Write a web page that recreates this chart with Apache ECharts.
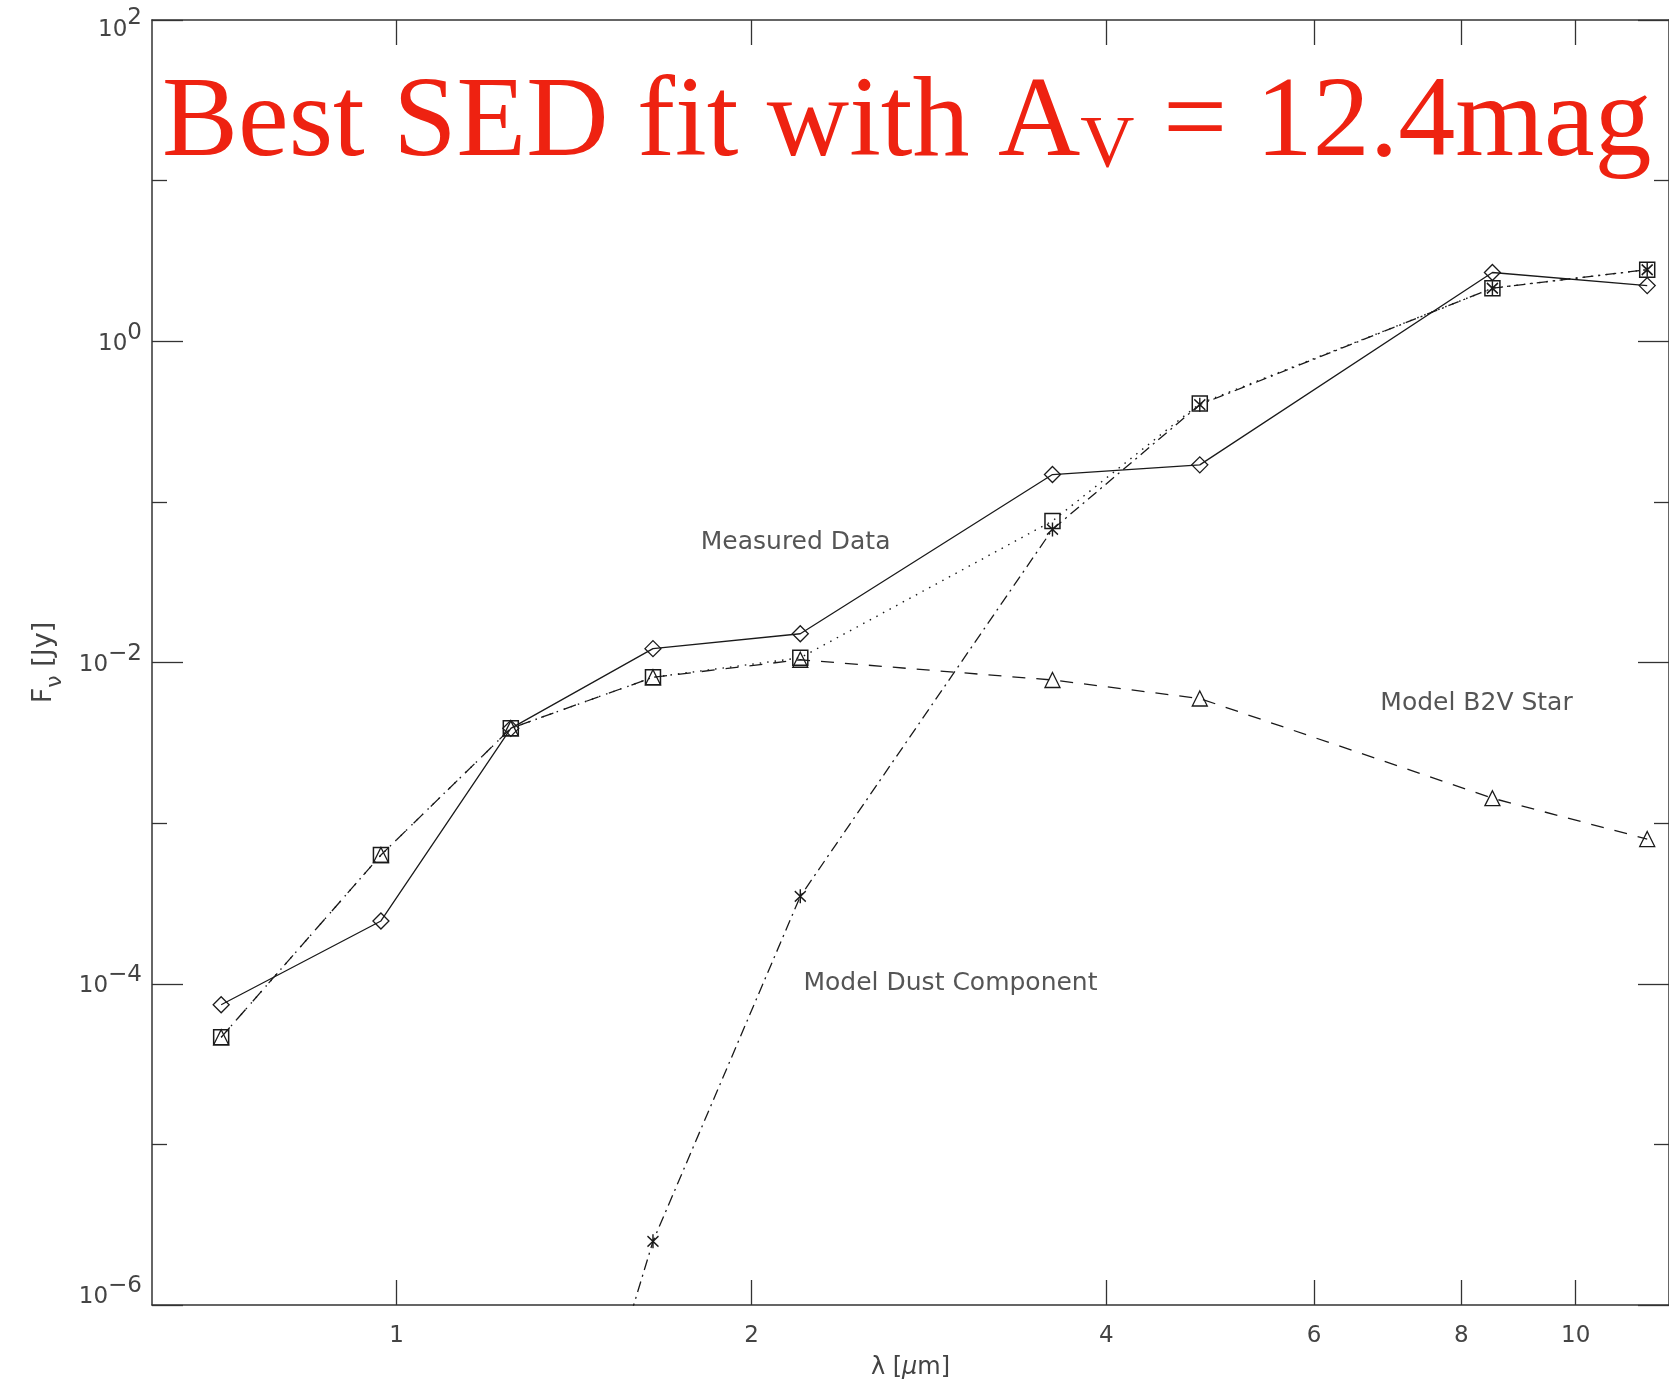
<!DOCTYPE html>
<html>
<head>
<meta charset="utf-8">
<script src="https://cdn.jsdelivr.net/npm/echarts@6/dist/echarts.min.js"></script>
<style>
html,body{margin:0;padding:0;background:#fff;}
#chart{width:1669px;height:1387px;}
</style>
</head>
<body>
<div id="chart"></div>
<script>
// ---- data (wavelength in micron, flux density in Jy) ----
const wavelengths      = [0.71, 0.97, 1.25, 1.65, 2.2, 3.6, 4.8, 8.5, 11.5];
const measuredFlux     = [7.4e-5, 2.46e-4, 3.89e-3, 0.0122, 0.0151, 0.148, 0.170, 2.68, 2.22];
const totalModelFlux   = [4.64e-5, 6.33e-4, 3.89e-3, 8.09e-3, 0.0107, 0.0761, 0.409, 2.14, 2.79];
const starModelFlux    = [4.64e-5, 6.33e-4, 3.89e-3, 8.09e-3, 0.0104, 7.78e-3, 5.97e-3, 1.43e-3, 7.96e-4];
const dustWavelengths  = [1.25, 1.65, 2.2, 3.6, 4.8, 8.5, 11.5];
const dustModelFlux    = [3e-9, 2.49e-6, 3.5e-4, 0.0674, 0.403, 2.14, 2.79];

const annotationText   = ['Measured Data', 'Model B2V Star', 'Model Dust Component'];
const annotationLambda = [2.18, 8.24, 2.95];
const annotationFlux   = [0.0555, 0.00559, 1.0e-4];

const xTickValues      = [1, 2, 4, 6, 8, 10];
const yMajorTicks      = [1e-6, 1e-4, 1e-2, 1, 100];
const yMinorTicks      = [1e-5, 1e-3, 1e-1, 10];

const titleMain = 'Best SED fit with A';
const titleSub  = 'V';
const titleTail = ' = 12.4mag';

// ---- build ----
const pairs = (xs, ys) => xs.map((x, i) => [x, ys[i]]);
const INK = '#1a1a1a';
const AX = '#333';
const SANS = 'DejaVu Sans';
const asterisk = 'path://M5,0L5,12M0,1.5L10,10.5M10,1.5L0,10.5';

function yLabel(v) {
  const e = Math.round(Math.log10(v));
  const s = e < 0 ? '\u2212' + (-e) : '' + e;
  const k = e === 2 ? 't' : (e === -6 ? 'm' : 'n');
  return '{' + k + 'b|10}{' + k + 'e|' + s + '}';
}
const lab = (pt, pb) => ({fontSize: 23, fontFamily: SANS, color: '#444', verticalAlign: 'top', padding: [pt, 0, pb, 0]});

const xBase = {
  type: 'log', logBase: 10, min: 0.6203, max: 12,
  splitLine: {show: false},
  axisLine: {show: true, lineStyle: {color: AX, width: 1.5}},
  axisTick: {show: true, inside: true, length: 25, customValues: xTickValues, lineStyle: {color: AX, width: 1.3}},
  axisLabel: {show: false}
};
const yBase = {
  type: 'log', logBase: 10, min: 1e-6, max: 100,
  splitLine: {show: false},
  axisLine: {show: true, lineStyle: {color: AX, width: 1.5}},
  axisLabel: {show: false}
};

const option = {
  animation: false,
  backgroundColor: '#ffffff',
  title: {
    text: '{a|' + titleMain + '}{s|' + titleSub + '}{a|' + titleTail + '}',
    left: 162, top: 68, padding: 0,
    textStyle: {
      fontWeight: 'normal',
      rich: {
        a: {fontFamily: 'Liberation Serif', fontWeight: 'normal', fontSize: 114, color: '#EE2211', lineHeight: 130, verticalAlign: 'top'},
        s: {fontFamily: 'Liberation Serif', fontWeight: 'normal', fontSize: 75, color: '#EE2211', lineHeight: 90, verticalAlign: 'top', padding: [42, 0, 0, 0]}
      }
    }
  },
  grid: {left: 152, top: 20, width: 1527, height: 1285, containLabel: false},
  xAxis: [
    Object.assign({}, xBase, {
      position: 'bottom',
      axisLabel: {show: true, customValues: xTickValues, fontSize: 23, fontFamily: SANS, color: '#444', margin: 20},
      name: '{a|\u03bb [}{i|\u03bc}{a|m]}',
      nameLocation: 'middle', nameGap: 51,
      nameTextStyle: {rich: {a: {fontSize: 24, fontFamily: SANS, color: '#444'}, i: {fontSize: 24, fontFamily: SANS, fontStyle: 'italic', color: '#444'}}}
    }),
    Object.assign({}, xBase, {position: 'top'})
  ],
  yAxis: [
    Object.assign({}, yBase, {
      position: 'left',
      axisTick: {show: true, inside: true, length: 31, customValues: yMajorTicks, lineStyle: {color: AX, width: 1.3}},
      axisLabel: {
        show: true, customValues: yMajorTicks, margin: 10, formatter: yLabel,
        rich: {
          nb: lab(22.5, 17.5), ne: lab(11.5, 28.5),
          tb: lab(30, 10), te: lab(18.3, 21.7),
          mb: lab(17.5, 32.5), me: lab(6, 44)
        }
      },
      name: '{a|F}{s|\u03bd}{a| [Jy]}',
      nameLocation: 'middle', nameRotate: 90, nameGap: 85,
      nameTextStyle: {rich: {
        a: {fontSize: 27, fontFamily: SANS, color: '#444', verticalAlign: 'top', padding: [0, 0, 10, 0]},
        s: {fontSize: 22, fontFamily: SANS, color: '#444', verticalAlign: 'top', padding: [14, 0, 0, 0]}
      }}
    }),
    Object.assign({}, yBase, {
      position: 'left', axisLine: {show: false},
      axisTick: {show: true, inside: true, length: 15, customValues: yMinorTicks, lineStyle: {color: AX, width: 1.3}}
    }),
    Object.assign({}, yBase, {
      position: 'right',
      axisTick: {show: true, inside: true, length: 31, customValues: yMajorTicks, lineStyle: {color: AX, width: 1.3}}
    }),
    Object.assign({}, yBase, {
      position: 'right', axisLine: {show: false},
      axisTick: {show: true, inside: true, length: 15, customValues: yMinorTicks, lineStyle: {color: AX, width: 1.3}}
    })
  ],
  series: [
    {
      name: 'Measured Data', type: 'line', data: pairs(wavelengths, measuredFlux),
      lineStyle: {color: INK, width: 1.3, type: 'solid'},
      symbol: 'diamond', symbolSize: 16, showAllSymbol: true,
      itemStyle: {color: 'transparent', borderColor: INK, borderWidth: 1.3}
    },
    {
      name: 'Model B2V Star', type: 'line', data: pairs(wavelengths, starModelFlux),
      lineStyle: {color: INK, width: 1.3, type: [13, 11]},
      symbol: 'triangle', symbolSize: 15, showAllSymbol: true,
      itemStyle: {color: 'transparent', borderColor: INK, borderWidth: 1.3}
    },
    {
      name: 'Model Dust Component', type: 'line', data: pairs(dustWavelengths, dustModelFlux),
      lineStyle: {color: INK, width: 1.3, type: [11, 5, 2, 5]},
      symbol: asterisk, symbolSize: [11, 14], showAllSymbol: true,
      itemStyle: {color: 'transparent', borderColor: INK, borderWidth: 1.6}
    },
    {
      name: 'Total Model', type: 'line', data: pairs(wavelengths, totalModelFlux),
      lineStyle: {color: INK, width: 1.4, type: [1.5, 6]},
      symbol: 'rect', symbolSize: 15, showAllSymbol: true,
      itemStyle: {color: 'transparent', borderColor: INK, borderWidth: 1.5}
    },
    {
      name: 'labels', type: 'scatter', symbol: 'circle', symbolSize: 1,
      itemStyle: {color: 'transparent'},
      data: annotationText.map((t, i) => ({name: t, value: [annotationLambda[i], annotationFlux[i]]})),
      label: {show: true, position: 'inside', formatter: '{b}', fontSize: 25, fontFamily: SANS, color: '#2a2a2a'}
    }
  ]
};

const chart = echarts.init(document.getElementById('chart'), null, {renderer: 'canvas'});
chart.setOption(option);
</script>
</body>
</html>
